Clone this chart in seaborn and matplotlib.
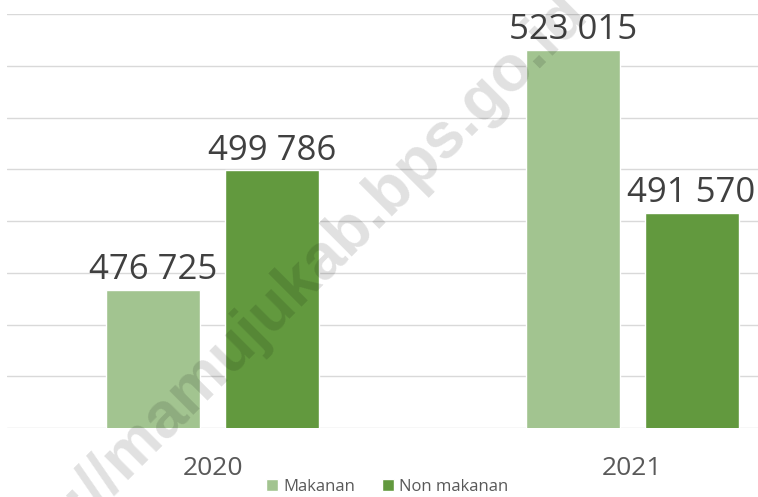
import pandas as pd
import matplotlib
matplotlib.use("Agg")
import matplotlib.pyplot as plt
import seaborn as sns

# data
years = ["2020", "2021"]
groups = ["Makanan", "Non makanan"]
makanan = [476725, 523015]
non_makanan = [499786, 491570]
colors = ["#A2C490", "#62993E"]

df = pd.DataFrame({
    "Tahun": years * 2,
    "Jenis": [groups[0]] * 2 + [groups[1]] * 2,
    "Nilai": makanan + non_makanan,
})

sns.set_style("white")
plt.rcParams["font.family"] = ["Open Sans", "DejaVu Sans"]

fig = plt.figure(figsize=(7.58, 4.97), dpi=100)
ax = fig.add_axes([7 / 758, 1 - 428 / 497, 751 / 758, 414 / 497])

sns.barplot(data=df, x="Tahun", y="Nilai", hue="Jenis", order=years,
            hue_order=groups, palette=colors, width=0.567, gap=0.21,
            saturation=1, ax=ax, zorder=3)

for c in ax.containers:
    labels = [f"{v:,.0f}".replace(",", " ") for v in c.datavalues]
    ax.bar_label(c, labels=labels, fontsize=25, color="#404040", padding=2)

ax.set_xlim(-0.49, 1.30)
ax.set_ylim(450000, 530000)
ax.set_yticks(range(450000, 530001, 10000))
ax.set_yticklabels([])
ax.yaxis.grid(True, color="#D9D9D9", linewidth=1.0, zorder=0)
ax.tick_params(axis="y", length=0)
ax.tick_params(axis="x", length=0, labelsize=19, labelcolor="#595959", pad=20)
ax.set_xlabel("")
ax.set_ylabel("")
for s in ax.spines.values():
    s.set_visible(False)

handles, lbls = ax.get_legend_handles_labels()
ax.legend_.remove()
fig.legend(handles, lbls, loc="center", bbox_to_anchor=(0.511, 0.02),
           ncol=2, frameon=False, fontsize=12, labelcolor="#595959",
           handlelength=0.75, handleheight=0.75, handletextpad=0.3,
           columnspacing=1.6, borderaxespad=0)

# watermark
fig.text(0.372, 0.40, "http://mamujukab.bps.go.id", rotation=45,
         fontsize=46, fontweight="bold", family="Liberation Sans",
         color="black", alpha=0.12, ha="center", va="center",
         rotation_mode="anchor", zorder=10)

fig.savefig("out.png", dpi=100)
